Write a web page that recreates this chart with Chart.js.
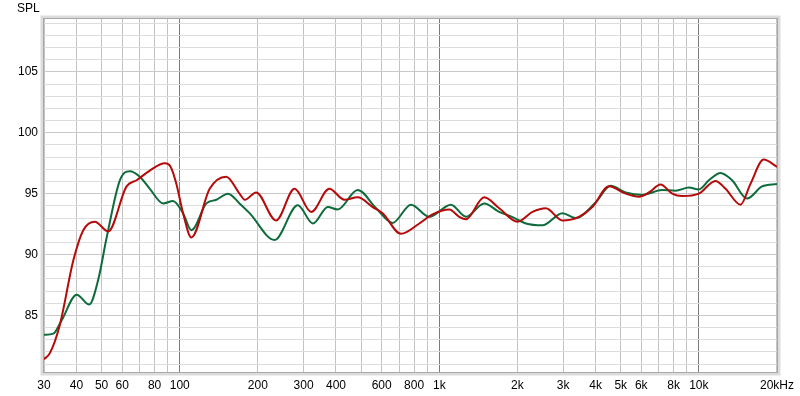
<!DOCTYPE html>
<html>
<head>
<meta charset="utf-8">
<script src="https://cdn.jsdelivr.net/npm/chart.js@4"></script>
<style>
  html, body { margin: 0; padding: 0; background: #ffffff; }
  #wrap { width: 800px; height: 396px; position: relative; }
</style>
</head>
<body>
<div id="wrap"><canvas id="c" width="800" height="396"></canvas></div>
<script>
// ---- data ----
const xTickValues = [30,40,50,60,70,80,90,100,200,300,400,500,600,700,800,900,1000,2000,3000,4000,5000,6000,7000,8000,9000,10000,20000];
const xTickLabels = ['30','40','50','60','','80','','100','200','300','400','','600','','800','','1k','2k','3k','4k','5k','6k','','8k','','10k','20kHz'];
const yTickValues = [81,82,83,84,85,86,87,88,89,90,91,92,93,94,95,96,97,98,99,100,101,102,103,104,105,106,107,108,109];
const yLabelStep = 5;
const yAxisTitle = 'SPL';

const redFreq = [30,31.6,34.5,38.9,42.5,47.1,53,62.4,68.2,76.7,87.6,92.3,97.1,103,110.9,130.4,151,170,178,197,235,277,321,377,431,485,554,605,712,838,942,1093,1194,1267,1490,1701,2001,2285,2573,2981,3455,3887,4507,5225,5877,6421,7123,7895,8627,10000,11590,12670,14470,15800,17780,20000];
const redSpl = [81.4,81.9,84.2,89.5,92.0,92.7,91.9,95.6,96.1,96.9,97.5,97.2,95.8,93.4,91.4,95.4,96.4,95.0,94.5,95.1,92.8,95.4,93.5,95.4,94.5,94.7,93.9,93.4,91.7,92.55,93.3,93.7,93.1,92.9,94.7,93.8,92.7,93.5,93.8,92.8,93.1,93.9,95.6,95.0,94.75,95.1,95.75,95.0,94.8,95.0,96.05,95.4,94.1,95.8,97.8,97.2];

const greenFreq = [30,32.6,35.1,40.1,44.8,48.5,52.3,58.8,64.2,70.2,76.7,86.3,94.2,103,110.9,126.7,138.4,153.4,170,185.8,232,285,326,372,406,485,571,661,778,915,1109,1267,1490,1701,1858,2156,2497,2981,3356,4007,4575,5225,6052,7225,8136,9153,10000,10930,12120,13430,15340,17520,20000];
const greenSpl = [83.4,83.5,84.6,86.7,85.9,87.9,91.4,96.1,96.85,96.4,95.4,94.2,94.4,93.4,92.0,94.2,94.5,95.0,94.2,93.4,91.2,94.05,92.55,93.9,93.7,95.3,93.8,92.6,94.1,93.1,94.1,93.1,94.2,93.5,93.2,92.55,92.4,93.4,93.0,94.3,95.65,95.1,94.9,95.3,95.25,95.5,95.35,96.1,96.7,96.1,94.6,95.6,95.8];

const toPoints = (xs, ys) => xs.map((x, i) => ({ x: x, y: ys[i] }));

// ---- frame plugin ----
const framePlugin = {
  id: 'frame',
  afterDatasetsDraw(chart) {
    const { ctx, chartArea: a } = chart;
    ctx.save();
    // outer soft shadow
    ctx.strokeStyle = '#dcdcdc';
    ctx.lineWidth = 3;
    ctx.strokeRect(a.left - 2, a.top - 2, a.right - a.left + 4, a.bottom - a.top + 4);
    ctx.strokeStyle = '#a8a8a8';
    ctx.lineWidth = 1;
    ctx.strokeRect(a.left - 0.5, a.top - 0.5, a.right - a.left + 1, a.bottom - a.top + 1);
    ctx.restore();
  },
  afterDraw(chart) {
    const { ctx } = chart;
    ctx.save();
    ctx.font = '12px "Liberation Sans", Arial, sans-serif';
    ctx.fillStyle = '#000';
    ctx.textBaseline = 'middle';
    ctx.textAlign = 'left';
    ctx.fillText(yAxisTitle, 17, 9);
    ctx.restore();
  }
};

const ctx = document.getElementById('c').getContext('2d');
new Chart(ctx, {
  type: 'line',
  data: {
    datasets: [
      {
        label: 'Red',
        data: toPoints(redFreq, redSpl),
        borderColor: '#b50a0a',
        borderWidth: 2,
        pointRadius: 0,
        fill: false,
        cubicInterpolationMode: 'monotone'
      },
      {
        label: 'Green',
        data: toPoints(greenFreq, greenSpl),
        borderColor: '#0e6b3b',
        borderWidth: 2,
        pointRadius: 0,
        fill: false,
        cubicInterpolationMode: 'monotone'
      }
    ]
  },
  options: {
    responsive: false,
    animation: false,
    events: [],
    layout: { padding: { top: 19, right: 22, left: 0, bottom: 0 } },
    plugins: { legend: { display: false }, tooltip: { enabled: false }, title: { display: false } },
    scales: {
      x: {
        type: 'logarithmic',
        min: 30,
        max: 20000,
        afterBuildTicks(scale) { scale.ticks = xTickValues.map(v => ({ value: v })); },
        afterFit(scale) { scale.height = 24; },
        border: { display: false },
        grid: {
          drawTicks: false,
          color: (c) => {
            const v = c.tick && c.tick.value;
            return (v === 100 || v === 1000 || v === 10000) ? '#7a7a7a' : '#c2c2c2';
          },
          lineWidth: 1
        },
        ticks: {
          autoSkip: false,
          maxRotation: 0,
          padding: 6,
          color: '#000',
          font: { family: '"Liberation Sans", Arial, sans-serif', size: 12 },
          callback: (v, i) => xTickLabels[i]
        }
      },
      y: {
        min: 80.35,
        max: 109.35,
        afterBuildTicks(scale) { scale.ticks = yTickValues.map(v => ({ value: v })); },
        afterFit(scale) { scale.width = 44; },
        border: { display: false },
        grid: {
          drawTicks: false,
          color: (c) => {
            const v = c.tick && c.tick.value;
            return (v % yLabelStep === 0) ? '#c8c8c8' : '#dcdcdc';
          },
          lineWidth: 1
        },
        ticks: {
          autoSkip: false,
          padding: 6,
          color: '#000',
          font: { family: '"Liberation Sans", Arial, sans-serif', size: 12 },
          callback: (v) => (v % yLabelStep === 0 ? String(v) : '')
        }
      }
    }
  },
  plugins: [framePlugin]
});
</script>
</body>
</html>
